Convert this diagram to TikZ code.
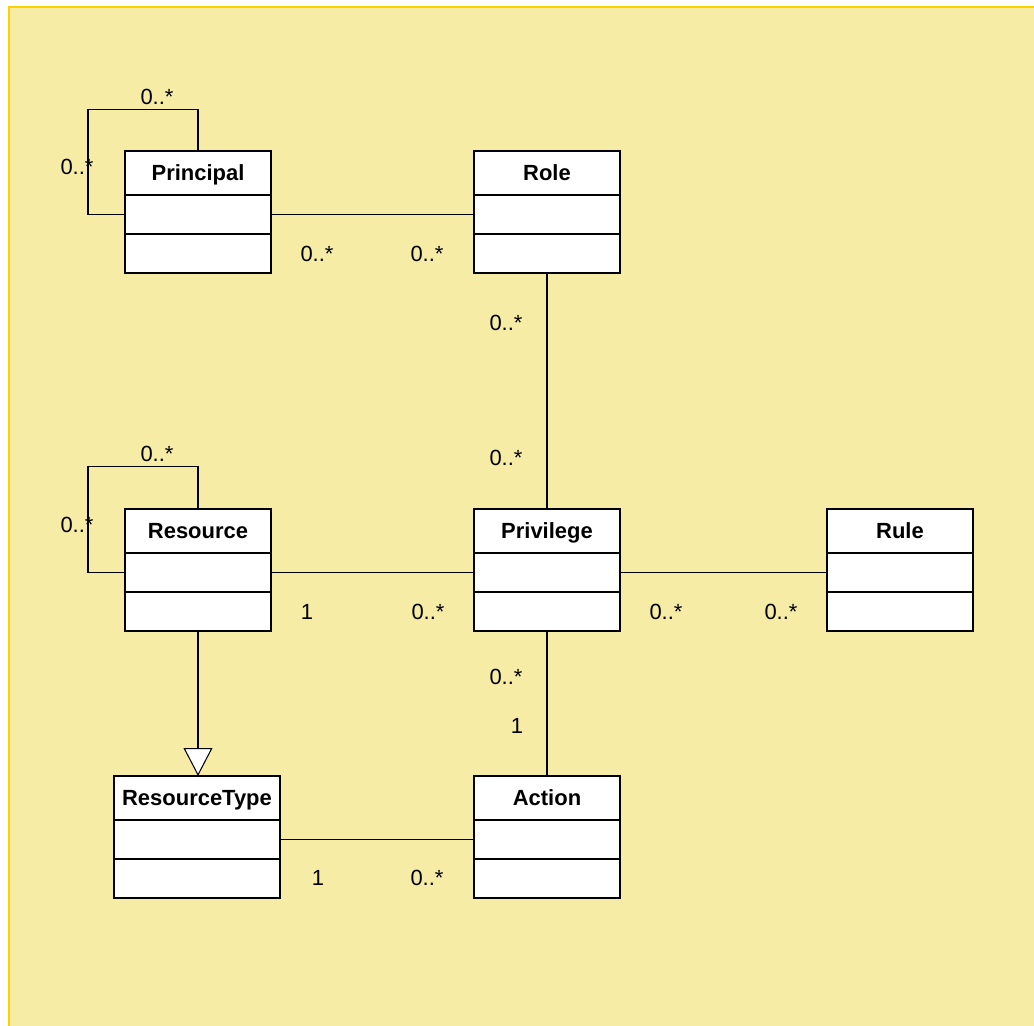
\documentclass[tikz,border=0pt]{standalone}
\usepackage{fontspec}
\setmainfont{Liberation Sans}
\usetikzlibrary{positioning, arrows.meta}

\newlength\px
\setlength\px{0.02cm}
\definecolor{sheetfill}{RGB}{247,236,166}
\definecolor{sheetedge}{RGB}{255,208,0}

\tikzset{
    classhead/.style={draw, fill=white, line width=0.7pt, inner sep=0pt, outer sep=0pt, minimum height=44\px, font=\fontsize{12.5}{15}\selectfont\bfseries, text height=8.95pt, text depth=0pt},
    classpart/.style={draw, fill=white, line width=0.7pt, inner sep=0pt, outer sep=0pt, minimum height=39\px},
    mult/.style={inner sep=0pt, font=\fontsize{12.5}{15}\selectfont, text height=8.95pt, text depth=0pt},
    assoc/.style={line width=0.6pt},
}

\newcommand{\umlclass}[5]{%
    \node[classhead, minimum width=#4\px, anchor=north west] (#1-h) at (#2,#3) {#5};
    \node[classpart, minimum width=#4\px, below = 0pt of #1-h] (#1-a) {};
    \node[classpart, minimum width=#4\px, below = 0pt of #1-a] (#1-o) {};
}

\begin{document}
\begin{tikzpicture}[x=0.02cm, y=-0.02cm]
    \clip (0,0) rectangle (1034,1026);
    \draw[fill=sheetfill, draw=sheetedge, line width=1.5pt] (9,7) rectangle (1060,1060);

    \umlclass{Principal}{125}{151}{146}{Principal}
    \umlclass{Role}{474}{151}{146}{Role}
    \umlclass{Resource}{125}{509}{146}{Resource}
    \umlclass{Privilege}{474}{509}{146}{Privilege}
    \umlclass{Rule}{827}{509}{146}{Rule}
    \umlclass{ResourceType}{114}{776}{166}{ResourceType}
    \umlclass{Action}{474}{776}{146}{Action}

    \draw[assoc] (Principal-a.west) -- ++(-37,0) -- ++(0,-105) -| (Principal-h.north);
    \draw[assoc] (Principal-a) -- (Role-a);
    \draw[assoc] (Role-o.south) -- (Privilege-h.north);
    \draw[assoc] (Resource-a.west) -- ++(-37,0) -- ++(0,-106) -| (Resource-h.north);
    \draw[assoc] (Resource-a) -- (Privilege-a);
    \draw[assoc] (Privilege-a) -- (Rule-a);
    \draw[assoc] (Privilege-o.south) -- (Action-h.north);
    \draw[assoc] (ResourceType-a) -- (Action-a);
    \draw[assoc, -{Triangle[length=15.9pt, width=16.4pt, fill=white]}] (Resource-o.south) -- (Resource-o.south |- ResourceType-h.north);

    \node[mult] (mPrinLoopTop) at (157,97) {0..*};
    \node[mult] (mPrinLoopLeft) at (77,167) {0..*};
    \node[mult] (mPrinRole) at (317,254) {0..*};
    \node[mult] (mRolePrin) at (427,254) {0..*};
    \node[mult] (mRolePriv) at (506,323) {0..*};
    \node[mult] (mPrivRole) at (506,458) {0..*};
    \node[mult] (mResLoopTop) at (157,454) {0..*};
    \node[mult] (mResLoopLeft) at (77,525) {0..*};
    \node[mult] (mResPriv) at (307,612) {1};
    \node[mult] (mPrivRes) at (428,612) {0..*};
    \node[mult] (mPrivRule) at (666,612) {0..*};
    \node[mult] (mRulePriv) at (781,612) {0..*};
    \node[mult] (mPrivAct) at (506,677) {0..*};
    \node[mult] (mActPriv) at (517,726) {1};
    \node[mult] (mTypeAct) at (318,878) {1};
    \node[mult] (mActType) at (427,878) {0..*};
\end{tikzpicture}
\end{document}
